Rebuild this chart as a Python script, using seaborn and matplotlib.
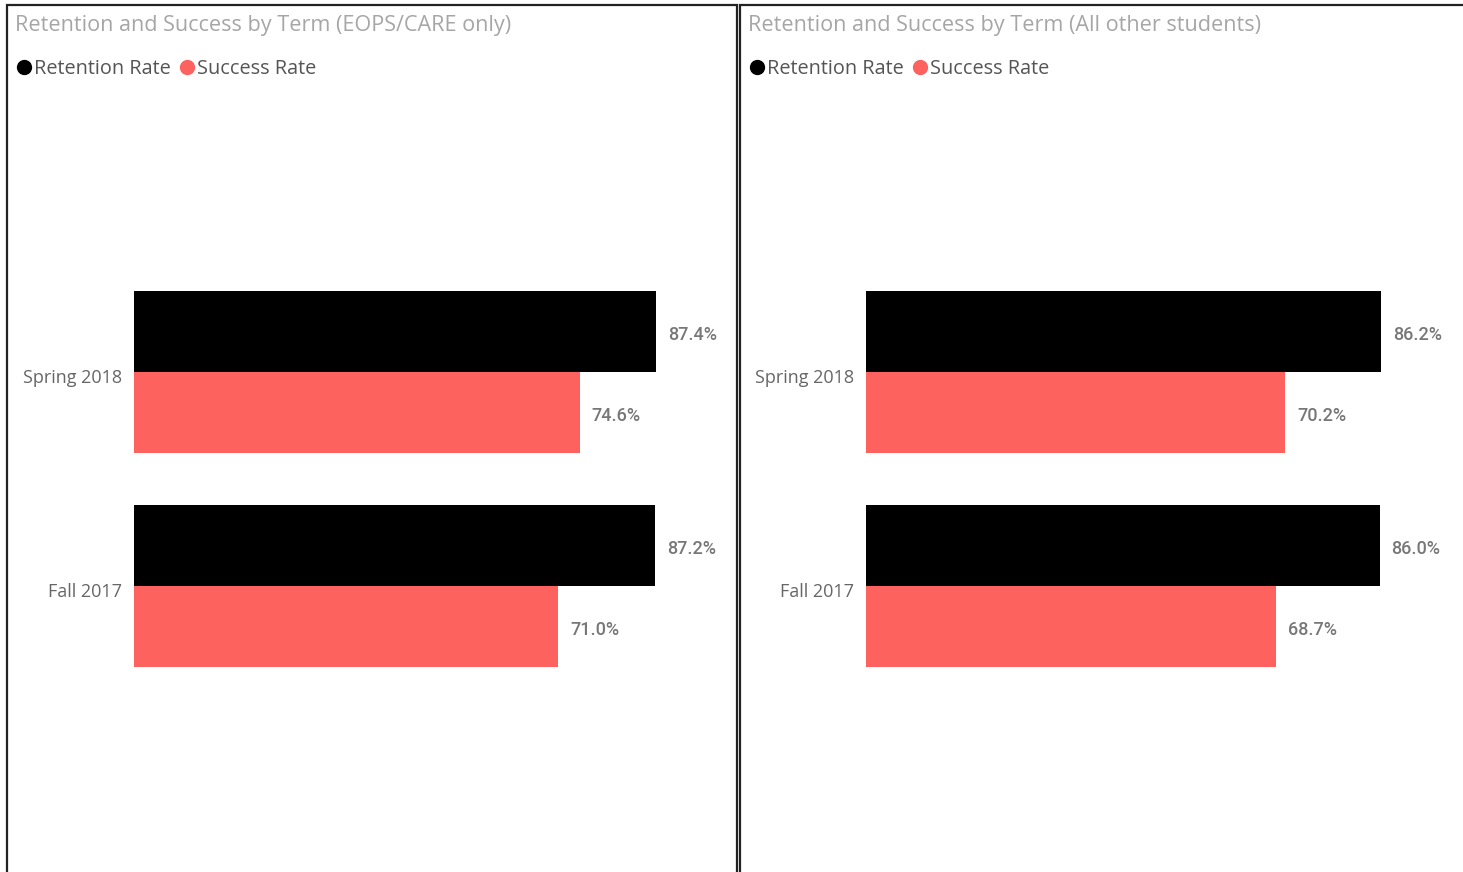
import matplotlib
matplotlib.use("Agg")
import matplotlib.pyplot as plt
import matplotlib.transforms as mtransforms
import seaborn as sns
import pandas as pd
from matplotlib.patches import Rectangle
from matplotlib.lines import Line2D

terms = ["Spring 2018", "Fall 2017"]
metrics = ["Retention Rate", "Success Rate"]
eops_retention = [87.4, 87.2]
eops_success = [74.6, 71.0]
other_retention = [86.2, 86.0]
other_success = [70.2, 68.7]
titles = ["Retention and Success by Term (EOPS/CARE only)",
          "Retention and Success by Term (All other students)"]
colors = {"Retention Rate": "#000000", "Success Rate": "#FD625E"}

sns.set_theme(style="white")
plt.rcParams["font.family"] = ["Open Sans", "DejaVu Sans"]

W, H = 1463, 872
fig = plt.figure(figsize=(W / 100, H / 100), dpi=100)
fig.patch.set_facecolor("white")


def frame(px):
    # pixel box (left, top, right, bottom) -> figure fraction rect
    l, t, r, b = px
    return [l / W, 1 - b / H, (r - l) / W, (b - t) / H]


def make_df(ret, suc):
    rows = []
    for i, t in enumerate(terms):
        rows.append({"term": t, "metric": "Retention Rate", "value": ret[i]})
        rows.append({"term": t, "metric": "Success Rate", "value": suc[i]})
    return pd.DataFrame(rows)


panels = [
    (make_df(eops_retention, eops_success), 7, 737, 134),
    (make_df(other_retention, other_success), 740, 1480, 866),
]

for k, (df, pl, pr, ax_left) in enumerate(panels):
    # panel border
    fig.add_artist(Rectangle((pl / W, 1 - 900 / H), (pr - pl) / W, (900 - 5.5) / H,
                             transform=fig.transFigure, fill=False,
                             edgecolor="#222222", linewidth=1.6, clip_on=False))
    # title
    fig.text((pl + 8) / W, 1 - 25 / H, titles[k], ha="left", va="center",
             fontsize=15.6, color="#A6A6A6")
    # legend
    x = pl + 17
    for m in metrics:
        fig.add_artist(Line2D([x / W], [1 - 67 / H], marker="o", markersize=10,
                              color=colors[m], transform=fig.transFigure))
        t = fig.text((x + 10) / W, 1 - 69 / H, m, ha="left", va="center",
                     fontsize=14.3, color="#555555")
        fig.canvas.draw()
        bb = t.get_window_extent()
        x = bb.x1 + 16

    # axes: 0% at ax_left, 5.973 px per percent; categories 214 px apart
    ax = fig.add_axes(frame((ax_left, 100, ax_left + 597.3, 860)))
    sns.barplot(data=df, y="term", x="value", hue="metric", order=terms,
                hue_order=metrics, palette=colors, orient="h", width=0.757,
                saturation=1, linewidth=0, legend=False, ax=ax)
    ax.set_xlim(0, 100)
    ax.set_ylim(488 / 214, -272 / 214)
    for c in ax.containers:
        anns = ax.bar_label(c, labels=[f"{v:.1f}%" for v in c.datavalues],
                            padding=8.6, fontsize=13, color="#777777",
                            fontweight="medium", family="Roboto")
        for a in anns:
            a.xyann = (8.6, -2.2)
    ax.set_xlabel("")
    ax.set_ylabel("")
    ax.set_xticks([])
    ax.tick_params(axis="y", length=0, pad=8.6, labelsize=13, labelcolor="#666666")
    shift = mtransforms.ScaledTranslation(0, -4 / 100, fig.dpi_scale_trans)
    for lab in ax.get_yticklabels():
        lab.set_va("center_baseline")
        lab.set_transform(lab.get_transform() + shift)
    for s in ax.spines.values():
        s.set_visible(False)
    ax.patch.set_alpha(0)

fig.savefig("out.png", dpi=100, facecolor="white")
